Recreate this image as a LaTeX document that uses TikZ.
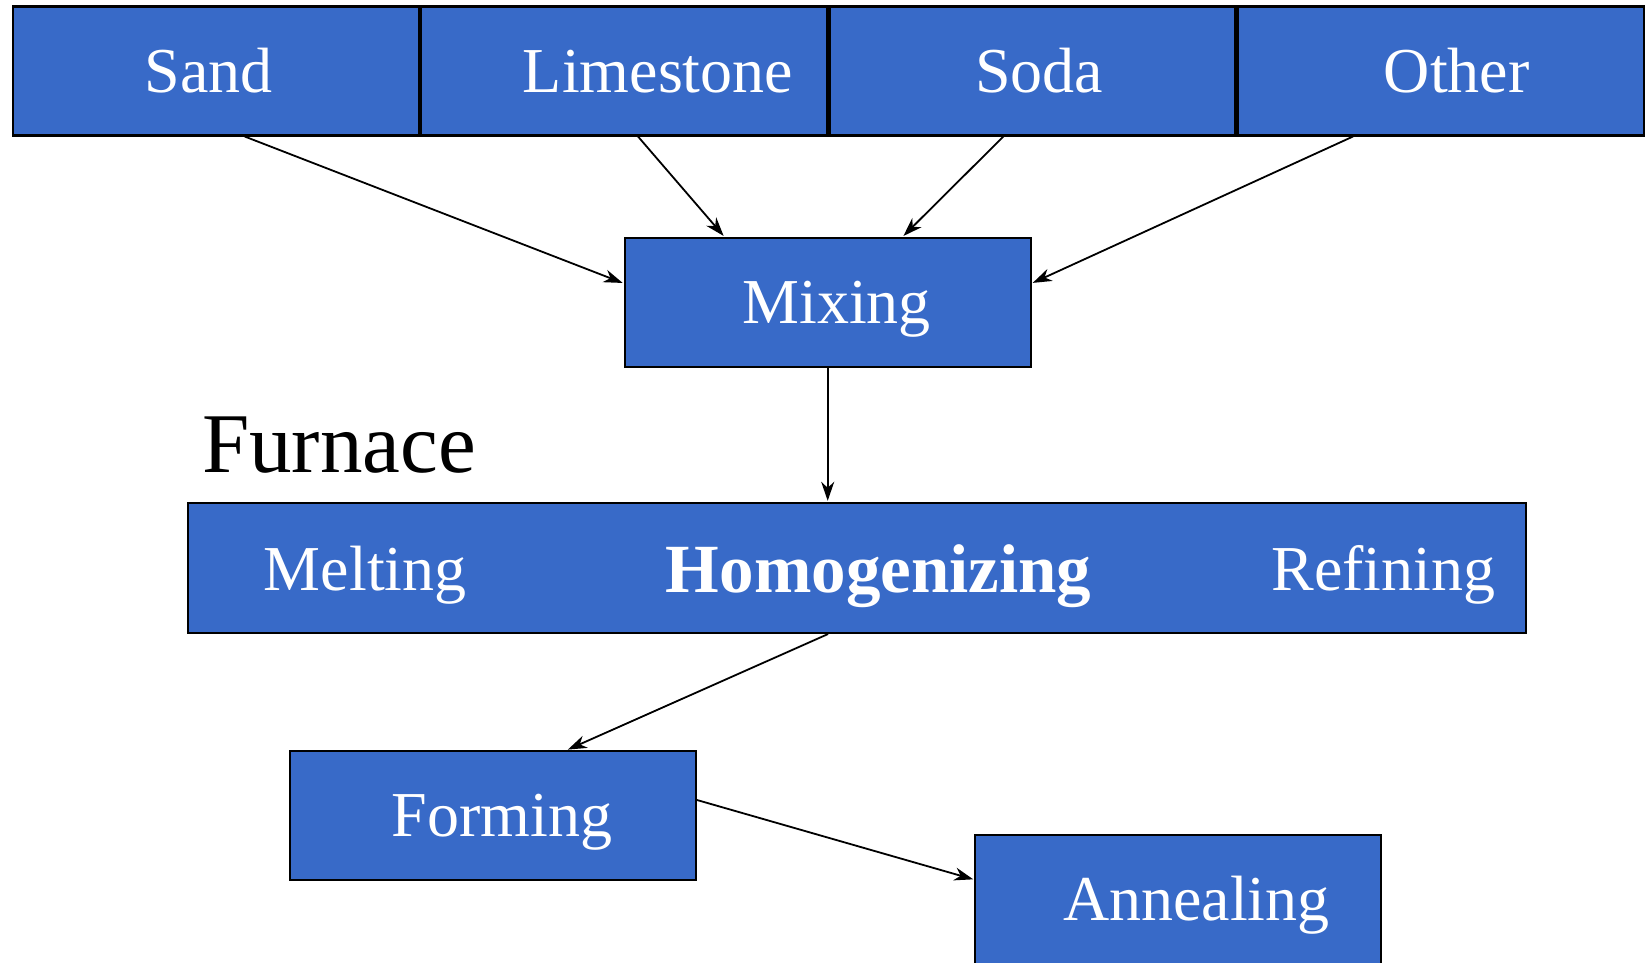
\documentclass[tikz,border=0pt]{standalone}
\usepackage{fontspec}
\setmainfont{Liberation Serif}
\usepackage{xcolor}
\usepackage{tikz}
\usetikzlibrary{arrows.meta}
\definecolor{stepblue}{RGB}{56,106,200}
\tikzstyle{stage} = [rectangle,
minimum width=406pt,
minimum height=129pt,
inner sep=0pt,
text height=42.4pt,
text depth=0pt,
text=white,
draw=black,
line width=2.2pt,
fill=stepblue,
font=\fontsize{64}{70}\selectfont]
\tikzstyle{stagetext} = [inner sep=0pt,
text height=42.4pt,
text depth=0pt,
text=white,
font=\fontsize{64}{70}\selectfont]
\tikzstyle{arrow} = [line width=1.8pt,-{Stealth[length=19pt,width=13pt,inset=6pt]},shorten >=1pt]

\begin{document}
\begin{tikzpicture}[x=1pt,y=-1pt]
				\useasboundingbox (0,0) rectangle (1646,962);
				\node[stage] (sand) at (215.7,70.9) {\hspace*{-14pt}Sand};
				\node[stage] (lime) at (624,70.9) {\hspace*{68pt}Limestone};
				\node[stage] (soda) at (1032.4,70.9) {\hspace*{14pt}Soda};
				\node[stage] (other) at (1440.7,70.9) {\hspace*{32pt}Other};
				\node[stage] (mix) at (827.7,302.3) {\hspace*{18pt}Mixing};
				\node[anchor=base west, inner sep=0pt, font=\fontsize{85}{90}\selectfont] (furn-l) at (202,472) {Furnace};
				\node[stage, minimum width=1338pt, minimum height=130pt] (furn) at (857.1,567.9) {};
				\node[stagetext] (melt) at (365.3,569) {Melting};
				\node[stagetext, text height=46.7pt, font=\fontsize{69}{74}\selectfont\bfseries] (homog) at (878.6,569) {Homogenizing};
				\node[stagetext] (refine) at (1383.5,569) {Refining};
				\node[stage] (form) at (492.9,815.6) {\hspace*{18pt}Forming};
				\node[stage] (anneal) at (1178.3,899.6) {\hspace*{36pt}Annealing};

				\draw[arrow] ([xshift=29pt]sand.south) -- ([yshift=19pt]mix.west);
				\draw[arrow] ([xshift=14pt]lime.south) -- ([xshift=-103.4pt]mix.north);
				\draw[arrow] ([xshift=-29pt]soda.south) -- ([xshift=75pt]mix.north);
				\draw[arrow] ([xshift=-87.7pt]other.south) -- ([yshift=19pt]mix.east);
				\draw[arrow] (mix.south) -- (mix.south |- furn.north);
				\draw[arrow] ([xshift=-29pt]furn.south) -- ([xshift=74pt]form.north);
				\draw[arrow] ([yshift=15.6pt]form.east) -- ([yshift=20pt]anneal.west);
			\end{tikzpicture}
\end{document}
